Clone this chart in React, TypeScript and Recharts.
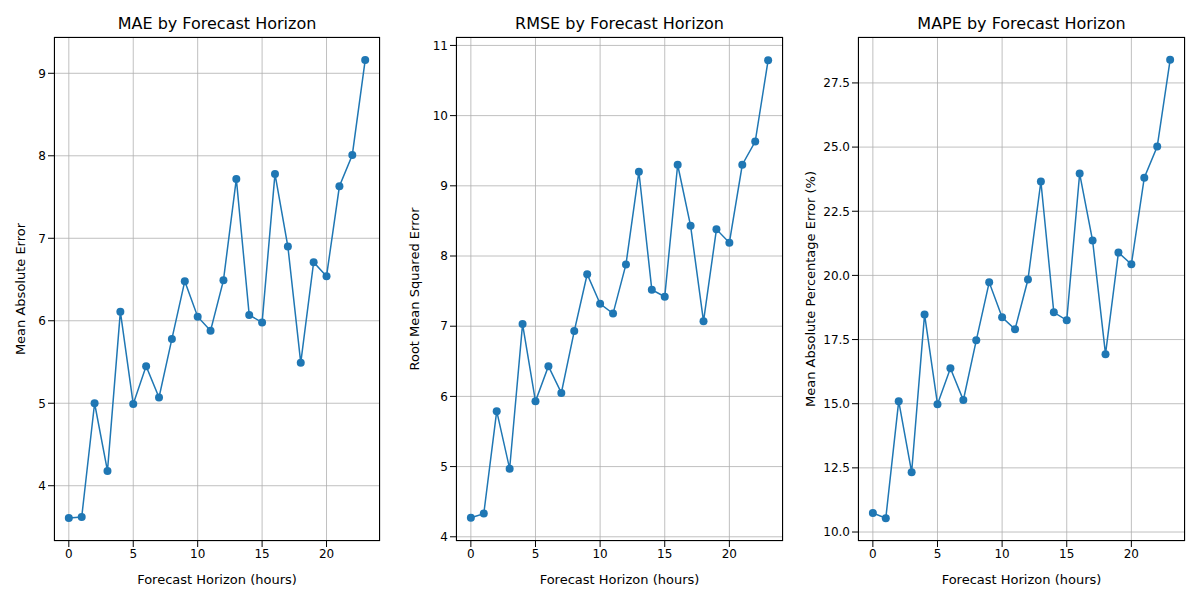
import React from "react";
import { LineChart, Line, XAxis, YAxis, CartesianGrid } from "recharts";

const hours = Array.from({ length: 24 }, (_, i) => i);
const mae = [3.61, 3.62, 5.0, 4.18, 6.11, 4.99, 5.45, 5.07, 5.78, 6.48, 6.05, 5.88, 6.49, 7.72, 6.07, 5.98, 7.78, 6.9, 5.49, 6.71, 6.54, 7.63, 8.01, 9.16];
const rmse = [4.27, 4.33, 5.79, 4.97, 7.03, 5.93, 6.43, 6.05, 6.93, 7.74, 7.32, 7.18, 7.88, 9.2, 7.52, 7.42, 9.3, 8.43, 7.07, 8.38, 8.19, 9.3, 9.63, 10.79];
const mape = [10.74, 10.54, 15.1, 12.33, 18.48, 14.98, 16.38, 15.14, 17.47, 19.73, 18.37, 17.9, 19.84, 23.66, 18.56, 18.25, 23.97, 21.36, 16.93, 20.89, 20.43, 23.81, 25.02, 28.4];
const xTicks = [0, 5, 10, 15, 20];
const maeTicks = [4, 5, 6, 7, 8, 9];
const rmseTicks = [4, 5, 6, 7, 8, 9, 10, 11];
const mapeTicks = [10, 12.5, 15, 17.5, 20, 22.5, 25, 27.5];

const FONT = "DejaVu Sans, sans-serif";

type P = {
  left: number; yw: number; rm: number; values: number[]; ticks: number[]; lo: number;
  domain: [number, number]; title: string; ylabel: string; fmt?: (v: number) => string;
};

function Panel({ left, yw, rm, values, ticks, domain, title, ylabel, fmt, lo }: P) {
  const data = hours.map((h, i) => ({ h, v: values[i] }));
  const plotL = left + yw;
  const plotR = left + 400 - rm;
  return (
    <>
      <div style={{ position: "absolute", left: plotL, width: plotR - plotL, top: 14, textAlign: "center", fontSize: 16, fontFamily: FONT, color: "#000" }}>{title}</div>
      <div style={{ position: "absolute", left }}>
        <LineChart width={400} height={600} data={data} margin={{ top: 37, right: rm, bottom: 0, left: 0 }}>
          <CartesianGrid stroke="#b0b0b0" strokeWidth={0.8} />
          <XAxis dataKey="h" type="number" domain={[-1.15, 24.15]} ticks={xTicks} height={59}
            tick={{ fill: "#000", fontSize: 12, fontFamily: FONT }} tickLine={{ stroke: "#000" }} axisLine={false}
            label={{ value: "Forecast Horizon (hours)", position: "insideBottom", offset: 16, fill: "#000", fontSize: 13, fontFamily: FONT }} />
          <YAxis type="number" domain={domain} ticks={ticks} width={yw} tickFormatter={fmt}
            tick={{ fill: "#000", fontSize: 12, fontFamily: FONT }} tickLine={{ stroke: "#000" }} axisLine={false}
            label={{ value: ylabel, angle: -90, position: "insideLeft", offset: lo, style: { textAnchor: "middle" }, fill: "#000", fontSize: 13, fontFamily: FONT }} />
          <Line dataKey="v" stroke="#1f77b4" strokeWidth={1.5} isAnimationActive={false}
            dot={{ r: 4, fill: "#1f77b4", stroke: "#1f77b4", strokeWidth: 0 }} />
        </LineChart>
      </div>
      <div style={{ position: "absolute", left: plotL, top: 37, width: plotR - plotL, height: 504, border: "1px solid #000", boxSizing: "border-box", pointerEvents: "none" }} />
    </>
  );
}

export default function App() {
  return (
    <div style={{ position: "fixed", left: 0, top: 0, width: 1200, height: 600, background: "#fff" }}>
      <Panel left={0} yw={54} rm={20} lo={20} values={mae} ticks={maeTicks} domain={[3.33, 9.44]} title="MAE by Forecast Horizon" ylabel="Mean Absolute Error" />
      <Panel left={400} yw={56} rm={17} lo={14} values={rmse} ticks={rmseTicks} domain={[3.94, 11.12]} title="RMSE by Forecast Horizon" ylabel="Root Mean Squared Error" />
      <Panel left={800} yw={58} rm={15} lo={10} values={mape} ticks={mapeTicks} domain={[9.65, 29.29]} title="MAPE by Forecast Horizon" ylabel="Mean Absolute Percentage Error (%)" fmt={(v) => v.toFixed(1)} />
    </div>
  );
}
